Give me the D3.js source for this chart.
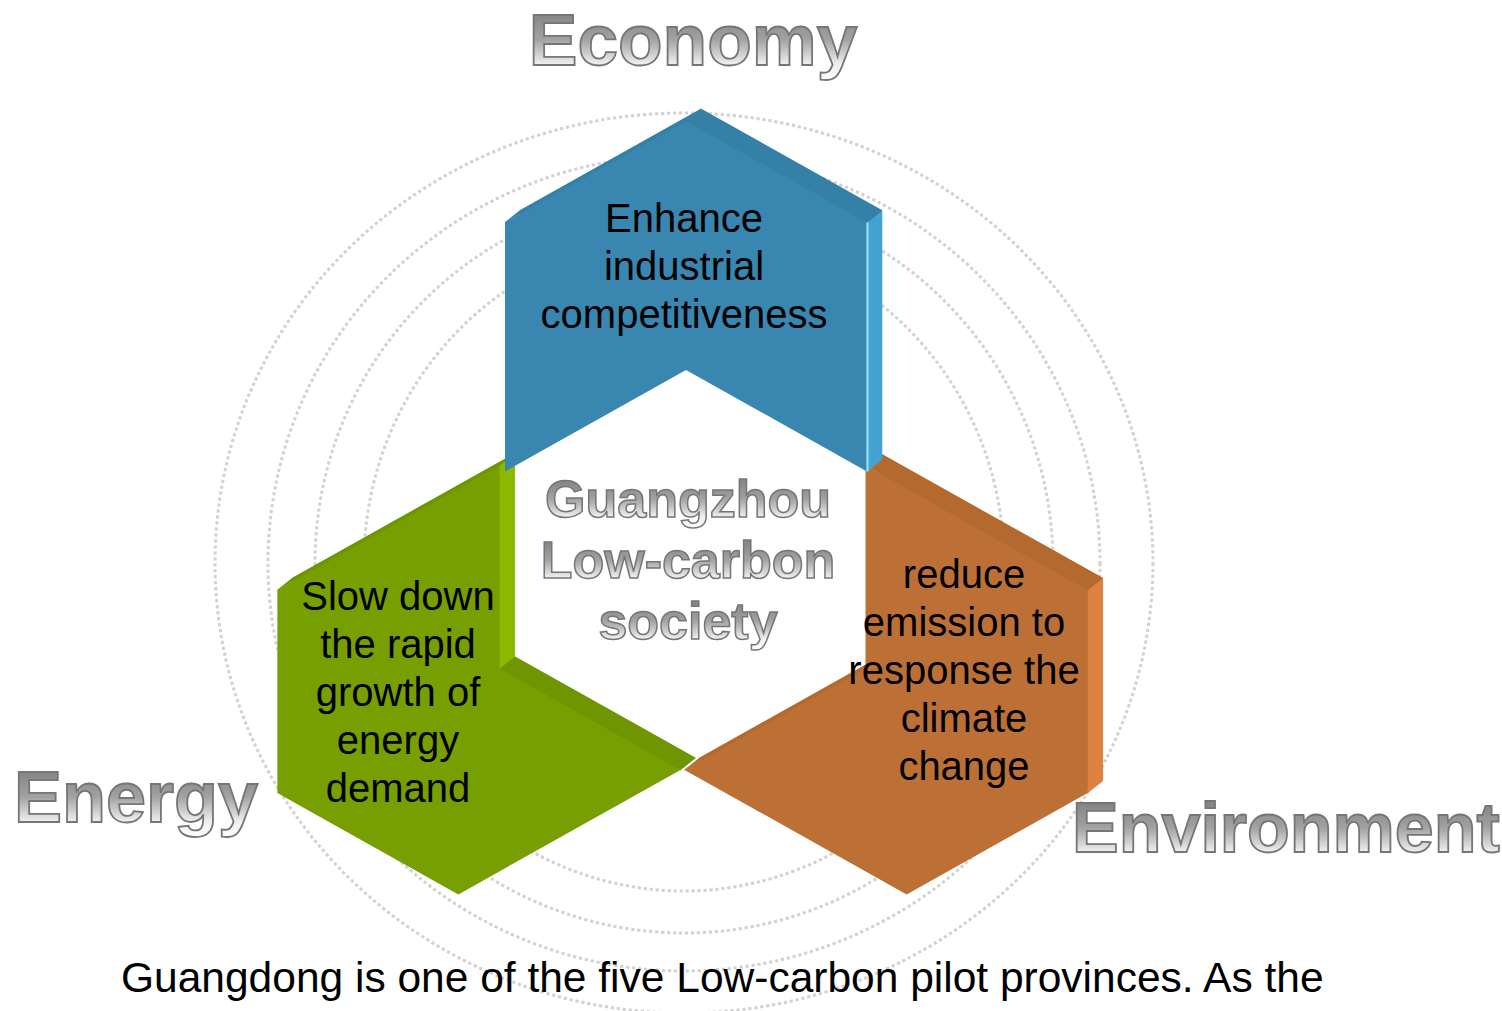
<!DOCTYPE html>
<html>
<head>
<meta charset="utf-8">
<script src="https://cdn.jsdelivr.net/npm/d3@7/dist/d3.min.js"></script>
<style>
  body { margin: 0; background: #fff; }
  svg { display: block; }
  text { font-family: "Liberation Sans", Arial, Helvetica, sans-serif; }
</style>
</head>
<body>
<div id="chart"></div>
<script>
// content of the diagram
var pillars = ["Economy", "Energy", "Environment"];
var goals = [
    ["Enhance", "industrial", "competitiveness"],
    ["Slow down", "the rapid", "growth of", "energy", "demand"],
    ["reduce", "emission to", "response the", "climate", "change"]
];
var centreLines = ["Guangzhou", "Low-carbon", "society"];
var caption = "Guangdong is one of the five Low-carbon pilot provinces. As the";

// palette (front / top face / side face)
var palette = [
    { front: "#3987b0", top: "#3480a6", side: "#44a2d2", edge: "#8fe3f7" },
    { front: "#779f01", top: "#6f9500", side: "#8ab900", edge: null },
    { front: "#bd7035", top: "#b4692f", side: "#dd8240", edge: null }
];

var W = 1502, H = 1011;
var cx = 684, cy = 569, sx = 1.03;        // hub centre, horizontal stretch
var depth = [15, -12];                     // extrusion offset
var apexR = 448, notchR = 199, halfW = 175.7;
var shoulder = halfW * Math.tan(Math.PI / 6);
var turn = [0, 240, 120];                  // rotation of each chevron
var nudge = [2, -7, 4];                    // small horizontal gap between chevrons
var drawOrder = [1, 2, 0];

var rings = [[469, 450], [416, 408], [369, 370], [320, 328]];

var svg = d3.select("#chart").append("svg")
    .attr("width", W)
    .attr("height", H);

var defs = svg.append("defs");
var silver = defs.append("linearGradient")
    .attr("id", "silver")
    .attr("x1", 0).attr("y1", 0).attr("x2", 0).attr("y2", 1);
silver.selectAll("stop")
    .data([[0, "#8c8c8c"], [0.2, "#868686"], [0.5, "#a2a2a2"], [0.8, "#eeeeee"], [1, "#ffffff"]])
    .enter().append("stop")
    .attr("offset", function(d) { return d[0]; })
    .attr("stop-color", function(d) { return d[1]; });

// dotted rings
svg.append("g").selectAll("ellipse")
    .data(rings)
    .enter().append("ellipse")
    .attr("cx", cx)
    .attr("cy", cy - 6)
    .attr("rx", function(d) { return d[0]; })
    .attr("ry", function(d) { return d[1]; })
    .attr("fill", "none")
    .attr("stroke", "#d2d2d2")
    .attr("stroke-width", 3)
    .attr("stroke-dasharray", "3.2 2.8");

// chevron template, pointing up, around the hub
var template = [
    [0, -apexR], [-halfW, -apexR + shoulder], [-halfW, -notchR + shoulder],
    [0, -notchR], [halfW, -notchR + shoulder], [halfW, -apexR + shoulder]
];

function place(pt, deg, dx) {
    var r = deg * Math.PI / 180, c = Math.cos(r), s = Math.sin(r);
    var x = pt[0] * c - pt[1] * s, y = pt[0] * s + pt[1] * c;
    return [cx + dx + sx * x, cy + y];
}
function shift(p) { return [p[0] + depth[0], p[1] + depth[1]]; }

var line = d3.line().curve(d3.curveLinearClosed);

var chevrons = turn.map(function(deg, i) {
    var front = template.map(function(p) { return place(p, deg, nudge[i]); });
    var n = front.length, area = 0;
    for (var k = 0; k < n; k++) {
        var a = front[k], b = front[(k + 1) % n];
        area += a[0] * b[1] - b[0] * a[1];
    }
    var sign = area > 0 ? 1 : -1;
    var faces = [];
    for (var k = 0; k < n; k++) {
        var p = front[k], q = front[(k + 1) % n];
        var dx = q[0] - p[0], dy = q[1] - p[1], len = Math.hypot(dx, dy);
        var nx = sign * dy / len, ny = -sign * dx / len;
        if (nx * depth[0] + ny * depth[1] > 0) {
            faces.push({ pts: [p, q, shift(q), shift(p)], side: Math.abs(nx) > 0.9, a: p, b: q });
        }
    }
    return { i: i, front: front, back: front.map(shift), faces: faces };
});

var shapes = svg.append("g").selectAll("g")
    .data(drawOrder.map(function(i) { return chevrons[i]; }))
    .enter().append("g");

shapes.append("path")
    .attr("d", function(d) { return line(d.back); })
    .attr("fill", function(d) { return palette[d.i].top; });

shapes.each(function(d) {
    d3.select(this).selectAll("path.face")
        .data(d.faces)
        .enter().append("path")
        .attr("class", "face")
        .attr("d", function(f) { return line(f.pts); })
        .attr("fill", function(f) { return f.side ? palette[d.i].side : palette[d.i].top; })
        .attr("stroke", function(f) { return f.side ? palette[d.i].side : palette[d.i].top; })
        .attr("stroke-width", 0.6);
});

shapes.append("path")
    .attr("d", function(d) { return line(d.front); })
    .attr("fill", function(d) { return palette[d.i].front; });

// light rim on the front edge next to the side face
shapes.each(function(d) {
    if (!palette[d.i].edge) return;
    d.faces.filter(function(f) { return f.side; }).forEach(function(f) {
        d3.select(this).append("line")
            .attr("x1", f.a[0] + 0.5).attr("y1", f.a[1])
            .attr("x2", f.b[0] + 0.5).attr("y2", f.b[1])
            .attr("stroke", palette[d.i].edge)
            .attr("stroke-width", 2.2);
    }, this);
});

// goal text in each chevron
var goalAnchor = [[684, 232], [398, 610], [964, 588]];
svg.append("g").selectAll("text")
    .data(goals)
    .enter().append("text")
    .attr("text-anchor", "middle")
    .attr("font-size", 40)
    .attr("fill", "#000")
    .each(function(lines, i) {
        d3.select(this).selectAll("tspan")
            .data(lines)
            .enter().append("tspan")
            .attr("x", goalAnchor[i][0])
            .attr("y", function(t, j) { return goalAnchor[i][1] + j * 48; })
            .text(function(t) { return t; });
    });

// silver headings
var pillarPos = [
    { x: 693, y: 65, size: 73, anchor: "middle" },
    { x: 14, y: 822, size: 72, anchor: "start" },
    { x: 1072, y: 852, size: 70, anchor: "start" }
];
svg.append("g").selectAll("text")
    .data(pillars)
    .enter().append("text")
    .attr("x", function(d, i) { return pillarPos[i].x; })
    .attr("y", function(d, i) { return pillarPos[i].y; })
    .attr("text-anchor", function(d, i) { return pillarPos[i].anchor; })
    .attr("font-size", function(d, i) { return pillarPos[i].size; })
    .attr("font-weight", "bold")
    .attr("fill", "url(#silver)")
    .attr("stroke", "#767676")
    .attr("stroke-width", 1.8)
    .text(function(d) { return d; });

svg.append("g").selectAll("text")
    .data(centreLines)
    .enter().append("text")
    .attr("x", 688)
    .attr("y", function(d, i) { return 517 + i * 61; })
    .attr("text-anchor", "middle")
    .attr("font-size", 52)
    .attr("font-weight", "bold")
    .attr("fill", "url(#silver)")
    .attr("stroke", "#767676")
    .attr("stroke-width", 1.5)
    .text(function(d) { return d; });

svg.append("text")
    .attr("x", 121)
    .attr("y", 992)
    .attr("font-size", 42.5)
    .attr("fill", "#000")
    .text(caption);
</script>
</body>
</html>
